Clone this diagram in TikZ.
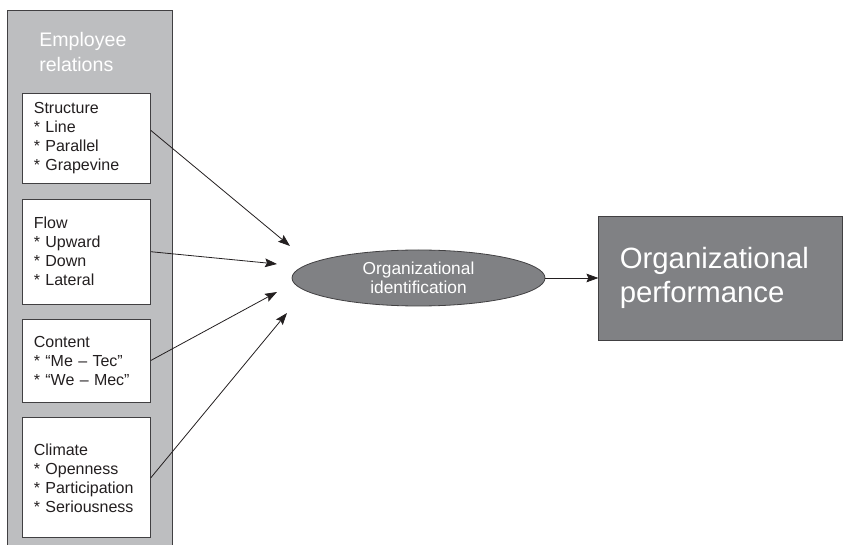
\documentclass[tikz,border=0pt]{standalone}
\usepackage{fontspec}
\setmainfont{Liberation Sans}
\usepackage{tikz}
\usetikzlibrary{arrows.meta,positioning,shapes.geometric}
\definecolor{panelgray}{RGB}{189,190,192}
\definecolor{midgray}{RGB}{128,129,132}
\definecolor{edgegray}{RGB}{65,64,66}
\definecolor{ink}{RGB}{35,31,32}

\begin{document}
\begin{tikzpicture}[x=0.75pt,y=-0.75pt,
panel/.style={draw=edgegray,fill=panelgray,line width=0.6pt,minimum width=123.75pt,minimum height=405pt,inner sep=0pt},
heading/.style={text=white,inner sep=0pt,align=left,font=\fontsize{14.7}{18.75}\selectfont},
item/.style={draw=edgegray,fill=white,line width=0.6pt,text width=78.8pt,inner xsep=8.6pt,inner ysep=0pt,align=left,text=ink,font=\fontsize{12}{14.25}\selectfont},
ident/.style={ellipse,draw=edgegray,fill=midgray,line width=0.6pt,minimum width=189.75pt,minimum height=42pt,inner sep=0pt,align=center,text=white,font=\fontsize{13}{14.3}\selectfont},
result/.style={draw=edgegray,fill=midgray,line width=0.6pt,minimum height=93pt,text width=151.5pt,inner xsep=15.75pt,align=left,text=white,font=\fontsize{22}{26}\selectfont},
arr/.style={-{Stealth[length=9pt,width=6.5pt,inset=1.5pt]},line width=0.6pt,draw=ink}
]
\useasboundingbox (0,0) rectangle (843,545);

\node[panel,anchor=north west] (panel) at (7,10) {};
\node[heading,anchor=north west] (heading) at (39,32) {Employee\\relations};

\node[item,anchor=north west,minimum height=67.5pt] (structure) at (22,93) {Structure\\{*} Line\\{*} Parallel\\{*} Grapevine};
\node[item,below=11.25pt of structure,minimum height=78.75pt] (flow) {Flow\\{*} Upward\\{*} Down\\{*} Lateral};
\node[item,below=10.5pt of flow,minimum height=62.25pt] (content) {Content\\{*} “Me – Tec”\\{*} “We – Mec”};
\node[item,below=11.25pt of content,minimum height=90pt] (climate) {Climate\\{*} Openness\\{*} Participation\\{*} Seriousness};

\node[ident] (ident) at (418.5,278) {Organizational\\identification};
\node[result,right=39.75pt of ident] (perf) {Organizational\\performance};

\coordinate (tipS) at (290,246);
\coordinate (tipF) at (277,264);
\coordinate (tipC) at (277,292);
\coordinate (tipK) at (287,313);

\draw[arr] ([yshift=6pt]structure.east) -- (tipS);
\draw[arr] (flow.east) -- (tipF);
\draw[arr] (content.east) -- (tipC);
\draw[arr] (climate.east) -- (tipK);
\draw[arr] (ident) -- (perf);
\end{tikzpicture}
\end{document}
